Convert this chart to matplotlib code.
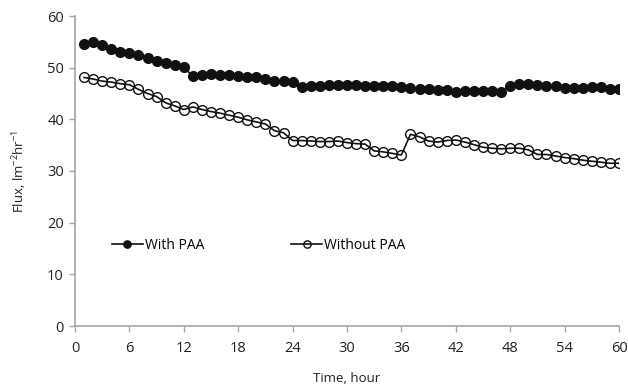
import matplotlib
matplotlib.use("Agg")
import matplotlib.pyplot as plt

hours = list(range(1, 61))
with_paa = [54.6, 54.9, 54.3, 53.6, 53.1, 52.8, 52.4, 51.9, 51.3, 50.9,
            50.6, 50.1, 48.3, 48.5, 48.7, 48.6, 48.5, 48.4, 48.2, 48.1,
            47.8, 47.5, 47.4, 47.2, 46.3, 46.5, 46.4, 46.6, 46.7, 46.7,
            46.6, 46.5, 46.5, 46.5, 46.4, 46.2, 46.0, 45.8, 45.8, 45.7,
            45.6, 45.3, 45.5, 45.5, 45.4, 45.5, 45.3, 46.4, 46.9, 46.8,
            46.6, 46.4, 46.4, 46.0, 46.1, 46.1, 46.2, 46.2, 45.9, 45.8]
without_paa = [48.1, 47.8, 47.4, 47.2, 46.9, 46.7, 45.8, 45.0, 44.4, 43.2,
               42.6, 41.9, 42.4, 41.9, 41.5, 41.2, 40.8, 40.4, 39.9, 39.5,
               39.1, 37.8, 37.4, 35.9, 35.9, 35.8, 35.7, 35.7, 35.8, 35.5,
               35.3, 35.2, 33.9, 33.7, 33.4, 33.1, 37.1, 36.6, 35.8, 35.6,
               35.9, 36.0, 35.6, 35.1, 34.6, 34.4, 34.3, 34.4, 34.4, 34.1,
               33.2, 33.2, 32.9, 32.6, 32.4, 32.1, 31.9, 31.7, 31.5, 31.5]
x_ticks = list(range(0, 61, 6))
y_ticks = list(range(0, 61, 10))

plt.rcParams['font.family'] = ['Open Sans', 'DejaVu Sans']
plt.rcParams['mathtext.default'] = 'regular'

fig = plt.figure(figsize=(6.28, 3.91), dpi=100)
ax = fig.add_axes([75/628, 1-326/391, (619-75)/628, (326-16)/391])

ax.plot(hours, with_paa, color='#111111', lw=1.2, marker='o', ms=7,
        mfc='#111111', mec='#111111', label='With PAA')
ax.plot(hours, without_paa, color='#111111', lw=1.2, marker='o', ms=7,
        mfc='none', mec='#111111', mew=1.0, label='Without PAA')

ax.set_xlim(0, 60)
ax.set_ylim(0, 60)
ax.set_xticks(x_ticks)
ax.set_yticks(y_ticks)
for s in ['top', 'right']:
    ax.spines[s].set_visible(False)
for s in ['left', 'bottom']:
    ax.spines[s].set_color('#a6a6a6')
    ax.spines[s].set_linewidth(1.2)
ax.tick_params(axis='both', colors='#a6a6a6', labelcolor='#222222',
               labelsize=10.5, length=4, width=1)
ax.tick_params(axis='x', pad=7)
ax.tick_params(axis='y', pad=4)

ax.set_xlabel('Time, hour', fontsize=9.5, color='#222222', labelpad=11)
ax.set_ylabel('Flux, lm$^{-2}$hr$^{-1}$', fontsize=9.5, color='#222222', labelpad=13)

ax.legend(loc='center left', bbox_to_anchor=(0.045, 0.26), ncol=2, frameon=False,
          fontsize=10, handlelength=2.2, handletextpad=0.15, columnspacing=6.3,
          markerscale=0.75)

fig.savefig('out.png', dpi=100)
